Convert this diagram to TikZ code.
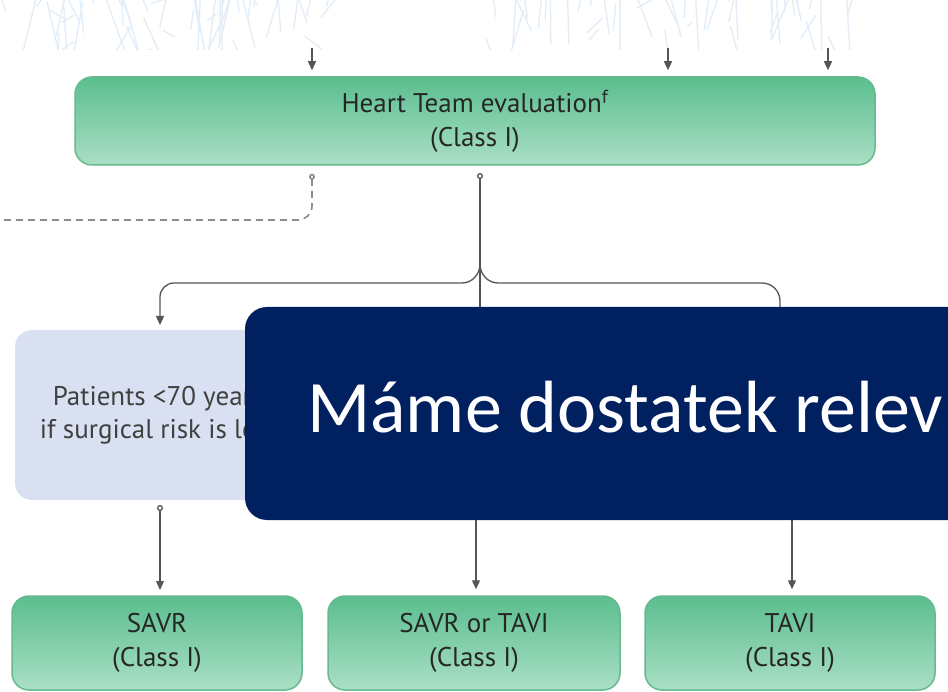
\documentclass[tikz,border=0pt]{standalone}
\usepackage{fontspec}
\setmainfont{PT Sans}
\newfontfamily\slidefont{Carlito}
\usetikzlibrary{arrows.meta,positioning,calc}

\definecolor{boxgreen}{HTML}{5BBE8E}
\definecolor{boxgreenlight}{HTML}{AADFC6}
\definecolor{boxgreenline}{HTML}{66BA8E}
\definecolor{boxlilac}{HTML}{D9E0F1}
\definecolor{slidenavy}{HTML}{002060}
\definecolor{flowgrey}{HTML}{555555}
\definecolor{dashgrey}{HTML}{8C8C8C}
\definecolor{scribble}{HTML}{E3EDF7}

\tikzset{
	greenbox/.style={draw=boxgreenline, line width=1.5pt, rounded corners=17pt,
		top color=boxgreen, bottom color=boxgreenlight, align=center,
		text=black!85, font=\fontsize{27}{34}\selectfont, inner sep=0pt},
	lilacbox/.style={fill=boxlilac, rounded corners=17pt, align=center,
		text=black!75, font=\fontsize{27}{33}\selectfont, inner sep=0pt},
	flow/.style={draw=flowgrey, line width=1.3pt},
	arrowflow/.style={flow, -{Triangle[width=8pt,length=9pt]}},
	startflow/.style={flow, {Circle[open,length=6pt,width=6pt]}-},
	dashflow/.style={draw=dashgrey, line width=1.6pt, dash pattern=on 7pt off 5pt,
		{Circle[open,length=6pt,width=6pt,fill=white]}-},
}

\begin{document}
\begin{tikzpicture}[x=1pt, y=-1pt]
	\useasboundingbox (0,0) rectangle (948,692);
	\clip (0,0) rectangle (948,692);

	% faint scribbles along the top
	\begin{scope}
		\clip (0,0) rectangle (948,50);
		\pgfmathsetseed{17}
		\foreach \i in {1,...,60}{
			\draw[scribble, line width=1.4pt] (330*rnd, 70*rnd) -- ++(50*rnd-25, -80*rnd);
		}
		\foreach \i in {1,...,50}{
			\draw[scribble, line width=1.4pt] (470+390*rnd, 70*rnd) -- ++(36*rnd-18, -80*rnd);
		}
	\end{scope}

	% incoming arrows
	\coordinate (in1) at (312,48);
	\coordinate (in2) at (668,48);
	\coordinate (in3) at (828,48);

	\node[greenbox, minimum width=800pt, minimum height=88pt] (hte) at (475,121)
		{Heart Team evaluation\textsuperscript{f}\\(Class I)};

	\foreach \c in {in1,in2,in3}{
		\draw[arrowflow, shorten >=6pt] (\c) -- (\c |- hte.north);
	}

	% dashed exit to the left
	\coordinate (lft) at (0,220);
	\draw[dashflow, shorten <=8pt, rounded corners=14pt] (hte.south -| in1) |- (lft);

	% patient groups
	\node[lilacbox, minimum width=286pt, minimum height=170pt] (pat) at (158,415)
		{Patients <70 years\\if surgical risk is low};

	% treatments
	\node[greenbox, minimum width=290pt, minimum height=94pt] (savr) at (157,643)
		{SAVR\\(Class I)};
	\node[greenbox, minimum width=292pt, minimum height=94pt] (both) at (474,643)
		{SAVR or TAVI\\(Class I)};
	\node[greenbox, minimum width=290pt, minimum height=94pt] (tavi) at (790,643)
		{TAVI\\(Class I)};

	% split below the Heart Team
	\coordinate (top) at (480,165);
	\coordinate (split) at (480,264);
	\coordinate (midin) at (480,340);
	\coordinate (rgtin) at (780,340);
	\draw[startflow, shorten <=8pt] (top) -- (midin);
	\draw[arrowflow, shorten >=5pt] (split) to[out=-90, in=0] (462,283)
		-- (174,283) to[out=180, in=90] (160,297) -- (160,330);
	\draw[flow] (split) to[out=-90, in=180] (498,283)
		-- (762,283) to[out=0, in=90] (780,301) -- (rgtin);

	% down to the treatments
	\coordinate (midout) at (476,480);
	\coordinate (rgtout) at (792,480);
	\draw[flow, {Circle[open,length=6pt,width=6pt]}-{Triangle[width=8pt,length=9pt]},
		shorten <=5pt, shorten >=6pt] (160,500) -- (160,596);
	\draw[arrowflow, shorten >=6pt] (midout) -- (midout |- both.north);
	\draw[arrowflow, shorten >=6pt] (rgtout) -- (rgtout |- tavi.north);

	% slide banner over the chart
	\fill[slidenavy, rounded corners=22pt] (245,307) rectangle (990,520);
	\node[anchor=base west, text=white, inner sep=0pt,
		font=\slidefont\fontsize{74}{88}\selectfont] (banner) at (307,432)
		{Máme dostatek relev};
\end{tikzpicture}
\end{document}
